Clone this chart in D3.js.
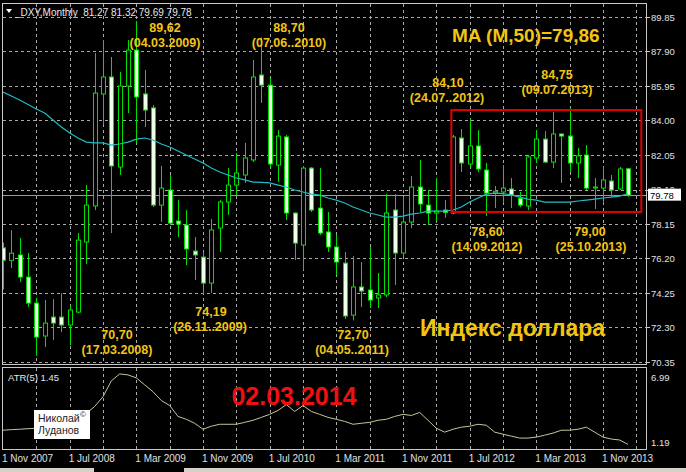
<!DOCTYPE html>
<html>
<head>
<meta charset="utf-8">
<script src="https://cdn.jsdelivr.net/npm/d3@7"></script>
<style>
  body { margin: 0; background: #000; }
  svg { display: block; }
  text { font-family: "Liberation Sans", Arial, sans-serif; }
</style>
</head>
<body>
<svg id="chart" width="686" height="472"></svg>
<script>
// monthly DXY, Nov 2007 .. Feb 2014
var timeLabels = ["1 Nov 2007", "1 Jul 2008", "1 Mar 2009", "1 Nov 2009", "1 Jul 2010",
	"1 Mar 2011", "1 Nov 2011", "1 Jul 2012", "1 Mar 2013", "1 Nov 2013"];

var opens = [76.8, 76.1, 76.4, 75.15, 73.68, 71.82, 72.89, 72.89, 72.44, 73.17,
	77.13, 79.17, 85.5, 86.46, 81.37, 85.95, 87.98, 85.5, 84.71, 79.22,
	80.07, 78.32, 78.09, 76.62, 76.28, 74.81, 77.92, 79.39, 80.35, 80.92,
	81.77, 86.57, 86.0, 81.48, 83.07, 78.77, 76.96, 81.31, 79.05, 77.7,
	76.85, 75.94, 73.0, 74.59, 74.42, 73.97, 74.14, 78.94, 76.51, 78.26,
	80.24, 79.22, 78.77, 78.94, 78.77, 83.01, 81.54, 82.56, 81.2, 79.9,
	79.96, 80.13, 79.6, 79.17, 81.88, 82.95, 81.65, 83.24, 83.12, 81.6,
	82.05, 80.18, 80.18, 80.58, 80.13, 81.27];
var highs = [77.1, 77.8, 77.36, 76.51, 73.97, 73.85, 73.9, 74.25, 73.57, 77.64,
	80.35, 87.81, 88.55, 87.59, 86.74, 88.55, 89.62, 86.85, 84.88, 81.43,
	80.92, 79.51, 78.94, 77.41, 76.57, 78.43, 79.51, 81.31, 82.16, 82.73,
	87.42, 88.70, 86.4, 83.46, 83.18, 78.8, 81.43, 81.37, 81.31, 78.83,
	77.53, 76.57, 76.34, 76.0, 76.85, 75.38, 79.84, 79.84, 79.67, 80.86,
	81.77, 80.07, 80.75, 79.5, 83.18, 83.52, 84.10, 83.46, 81.6, 80.3,
	81.48, 80.75, 79.96, 82.05, 83.46, 83.4, 84.48, 83.24, 84.75, 82.45,
	82.61, 80.75, 81.37, 80.92, 81.37, 81.32];
var lows = [74.45, 75.66, 74.87, 73.46, 70.70, 71.2, 71.6, 72.04, 71.3, 73.1,
	75.89, 78.94, 83.75, 77.64, 80.92, 84.42, 82.73, 83.63, 79.11, 78.26,
	78.1, 77.41, 75.83, 74.98, 74.19, 74.25, 76.57, 78.66, 79.79, 80.47,
	81.65, 84.99, 81.37, 80.52, 78.37, 76.11, 75.55, 78.83, 77.53, 76.57,
	75.27, 72.78, 72.70, 73.46, 73.4, 73.4, 74.02, 74.7, 76.28, 77.92,
	78.8, 78.09, 78.3, 78.5, 78.7, 81.09, 81.37, 81.09, 78.60, 79.05,
	79.34, 79.05, 79.1, 78.94, 81.6, 81.6, 81.31, 80.47, 81.09, 80.75,
	80.07, 79.0, 79.34, 79.67, 80.07, 79.69];
var closes = [76.1, 76.5, 75.15, 73.68, 71.76, 72.55, 72.55, 72.44, 73.29, 77.24,
	79.22, 85.55, 86.46, 81.43, 85.95, 87.98, 85.33, 84.59, 79.22, 80.18,
	78.2, 78.15, 76.74, 76.4, 74.81, 77.81, 79.39, 80.35, 81.03, 81.88,
	86.46, 86.0, 81.54, 83.12, 78.77, 77.07, 81.31, 78.94, 77.64, 76.85,
	76.0, 72.95, 74.59, 74.36, 73.85, 74.14, 78.77, 76.51, 78.26, 80.24,
	79.28, 78.77, 78.88, 78.8, 83.07, 81.6, 82.56, 81.26, 79.9, 80.0,
	80.18, 79.79, 79.22, 81.94, 82.95, 81.65, 83.24, 83.12, 81.6, 82.0,
	80.18, 80.24, 80.64, 80.07, 81.26, 79.78];

var ma50 = [85.61, 85.38, 85.16, 84.90, 84.65, 84.42, 84.03, 83.63, 83.29, 83.01,
	82.78, 82.73, 82.73, 82.61, 82.67, 82.78, 82.95, 83.01, 82.90, 82.67,
	82.50, 82.28, 82.05, 81.82, 81.60, 81.31, 81.09, 80.92, 80.75, 80.64,
	80.52, 80.50, 80.47, 80.35, 80.24, 80.07, 79.96, 79.84, 79.79, 79.62,
	79.50, 79.34, 79.11, 78.94, 78.77, 78.66, 78.54, 78.54, 78.60, 78.71,
	78.77, 78.88, 78.88, 78.88, 78.94, 79.11, 79.39, 79.62, 79.84, 79.90,
	79.87, 79.79, 79.67, 79.56, 79.50, 79.39, 79.39, 79.39, 79.39, 79.45,
	79.50, 79.56, 79.62, 79.67, 79.73, 79.86];

var atr5 = [2.48, 2.52, 2.55, 2.59, 2.62, 2.77, 2.91, 3.12, 3.34, 3.48,
	3.70, 4.20, 4.91, 6.06, 6.56, 6.49, 6.27, 5.77, 5.27, 4.63,
	4.27, 3.48, 3.27, 2.98, 2.55, 2.77, 2.91, 2.91, 2.91, 3.05,
	3.20, 3.41, 3.63, 3.91, 4.34, 3.84, 4.27, 3.84, 3.63, 3.41,
	3.27, 3.12, 2.91, 2.98, 3.05, 3.20, 3.27, 3.48, 3.63, 3.55,
	3.77, 3.20, 2.62, 2.34, 2.55, 2.70, 2.77, 2.91, 2.84, 2.34,
	2.19, 2.05, 1.91, 1.91, 1.98, 2.12, 2.27, 2.48, 2.48, 2.55,
	2.70, 2.34, 1.98, 1.84, 1.77, 1.45];

var priceTicks = [89.85, 87.90, 85.95, 84.00, 82.05, 80.10, 78.15, 76.20, 74.25, 72.30, 70.35];
var atrTicks = [6.99, 1.19];
var lastPrice = 79.78;
var maValue = "79,86";

var W = 686, H = 472;
var svg = d3.select("#chart");

svg.append("rect").attr("width", W).attr("height", H).attr("fill", "#000");

var x = d3.scaleLinear().domain([0, 75]).range([3, 628]);
var y = d3.scaleLinear().domain([70.35, 89.85]).range([362, 17]);
var ya = d3.scaleLinear().domain([atrTicks[1], atrTicks[0]]).range([448, 368]);
var px = i => Math.round(x(i)) + 0.5;

var gridColor = "#a8a8a8", frameColor = "#c8c8c8";

// grid
var grid = svg.append("g")
	.attr("stroke", gridColor)
	.attr("stroke-dasharray", "3,3");

grid.selectAll("line.h")
	.data(priceTicks)
	.join("line")
	.attr("class", "h")
	.attr("x1", 3).attr("x2", 650)
	.attr("y1", d => Math.round(y(d)) + 0.5)
	.attr("y2", d => Math.round(y(d)) + 0.5);

var vTicks = d3.range(4, 77, 4);
grid.selectAll("line.v")
	.data(vTicks)
	.join("line")
	.attr("class", "v")
	.attr("x1", px).attr("x2", px)
	.attr("y1", 4).attr("y2", 364);

grid.selectAll("line.va")
	.data(vTicks)
	.join("line")
	.attr("class", "va")
	.attr("x1", px).attr("x2", px)
	.attr("y1", 368).attr("y2", 449);

// bid line
svg.append("line")
	.attr("x1", 3).attr("x2", 646)
	.attr("y1", Math.round(y(lastPrice)) + 0.5)
	.attr("y2", Math.round(y(lastPrice)) + 0.5)
	.attr("stroke", "#9a9a9a");

svg.append("clipPath").attr("id", "mainClip")
	.append("rect").attr("x", 3).attr("y", 4).attr("width", 643).attr("height", 360);

var plot = svg.append("g").attr("clip-path", "url(#mainClip)");

// candles
var candles = opens.map((o, i) => ({ i: i, o: o, h: highs[i], l: lows[i], c: closes[i] }));

var cg = plot.append("g")
	.selectAll("g")
	.data(candles)
	.join("g");

cg.append("line")
	.attr("x1", d => px(d.i)).attr("x2", d => px(d.i))
	.attr("y1", d => y(d.h)).attr("y2", d => y(d.l))
	.attr("stroke", "#00e000");

cg.append("rect")
	.attr("x", d => px(d.i) - 2)
	.attr("width", 4)
	.attr("y", d => y(Math.max(d.o, d.c)))
	.attr("height", d => Math.max(1, Math.abs(y(d.o) - y(d.c))))
	.attr("fill", d => d.c >= d.o ? "#000" : "#eeffe8")
	.attr("stroke", "#00e000");

// moving average
plot.append("path")
	.datum(ma50)
	.attr("fill", "none")
	.attr("stroke", "#20bcc4")
	.attr("stroke-width", 1.2)
	.attr("d", d3.line().x((d, i) => x(i)).y(d => y(d)));

// range box
plot.append("rect")
	.attr("x", x(53.8)).attr("y", y(84.59))
	.attr("width", x(76.6) - x(53.8))
	.attr("height", y(78.83) - y(84.59))
	.attr("fill", "none")
	.attr("stroke", "#e00000")
	.attr("stroke-width", 2);

// ATR
svg.append("path")
	.datum(atr5)
	.attr("fill", "none")
	.attr("stroke", "#c8c49a")
	.attr("d", d3.line().x((d, i) => x(i)).y(d => ya(d)));

// frames
svg.append("rect").attr("x", 2.5).attr("y", 3.5).attr("width", 644).attr("height", 361)
	.attr("fill", "none").attr("stroke", frameColor);
svg.append("rect").attr("x", 2.5).attr("y", 367.5).attr("width", 644).attr("height", 82)
	.attr("fill", "none").attr("stroke", frameColor);

// price axis
var axisText = "#e0e0e0";
svg.append("g")
	.selectAll("line")
	.data(priceTicks)
	.join("line")
	.attr("x1", 646).attr("x2", 650)
	.attr("y1", d => Math.round(y(d)) + 0.5)
	.attr("y2", d => Math.round(y(d)) + 0.5)
	.attr("stroke", frameColor);

// the bid label covers the lower part of the tick under it, so clip that tick
svg.append("clipPath").attr("id", "bidClip")
	.append("rect").attr("x", 646).attr("y", 0).attr("width", 40).attr("height", y(lastPrice) - 6.5);

svg.append("g")
	.selectAll("text")
	.data(priceTicks)
	.join("text")
	.attr("x", 651)
	.attr("y", d => y(d) + 3.5)
	.attr("clip-path", d => Math.abs(y(d) - y(lastPrice)) < 12 ? "url(#bidClip)" : null)
	.attr("fill", axisText)
	.style("font-size", "9.5px")
	.text(d => d.toFixed(2));

svg.append("rect")
	.attr("x", 648).attr("y", y(lastPrice) - 6.5)
	.attr("width", 33).attr("height", 12)
	.attr("fill", "#fff");
svg.append("text")
	.attr("x", 650).attr("y", y(lastPrice) + 3.5)
	.attr("fill", "#000")
	.style("font-size", "9.5px")
	.text(lastPrice.toFixed(2));

// ATR scale
svg.append("g")
	.selectAll("text")
	.data(atrTicks)
	.join("text")
	.attr("x", 651)
	.attr("y", (d, i) => i ? 446 : 381)
	.attr("fill", axisText)
	.style("font-size", "9.5px")
	.text(d => d.toFixed(2));

// time axis
svg.append("g")
	.selectAll("text")
	.data(timeLabels)
	.join("text")
	.attr("x", (d, i) => x(i * 8) - 1)
	.attr("y", 462)
	.attr("fill", axisText)
	.style("font-size", "10px")
	.text(d => d);

svg.append("rect").attr("x", 0).attr("y", 468).attr("width", 94).attr("height", 4).attr("fill", "#d4d0c8");
svg.append("rect").attr("x", 184).attr("y", 468).attr("width", 502).attr("height", 4).attr("fill", "#d4d0c8");

// header
svg.append("path").attr("d", "M6,9 L12,9 L9,13 Z").attr("fill", "#fff");
svg.append("text")
	.attr("x", 15).attr("y", 16)
	.attr("fill", "#e8e8e8")
	.style("font-size", "10px")
	.attr("xml:space", "preserve")
	.text("_DXY,Monthly  " + [opens[75], highs[75], lows[75], closes[75]].map(v => v.toFixed(2)).join(" "));

svg.append("text")
	.attr("x", 8).attr("y", 381)
	.attr("fill", "#e8e8e8")
	.style("font-size", "9.5px")
	.text("ATR(5) " + atr5[atr5.length - 1].toFixed(2));

// annotations: value line above, date line below
var gold = "#f2c414";
var notes = [
	[165, 27, "89,62"], [165, 42, "(04.03.2009)"],
	[289, 27, "88,70"], [289, 42, "(07.06..2010)"],
	[117, 334, "70,70"], [117, 349, "(17.03.2008)"],
	[211, 311, "74,19"], [210, 326, "(26.11..2009)"],
	[353, 334, "72,70"], [352, 349, "(04.05..2011)"],
	[448, 82, "84,10"], [447, 97, "(24.07..2012)"],
	[557, 74, "84,75"], [557, 89, "(09.07.2013)"],
	[487, 231, "78,60"], [487, 246, "(14.09.2012)"],
	[590, 231, "79,00"], [591, 246, "(25.10.2013)"]
];
svg.append("g")
	.selectAll("text")
	.data(notes)
	.join("text")
	.attr("x", d => d[0])
	.attr("y", d => d[1] + 4.5)
	.attr("text-anchor", "middle")
	.attr("fill", gold)
	.style("font-size", "12.5px")
	.style("font-weight", "bold")
	.text(d => d[2]);

svg.append("text")
	.attr("x", 452).attr("y", 42)
	.attr("fill", gold)
	.style("font-size", "19px")
	.style("font-weight", "bold")
	.text("MA (M,50)=" + maValue);

svg.append("text")
	.attr("x", 420).attr("y", 336)
	.attr("fill", gold)
	.style("font-size", "23px")
	.style("font-weight", "bold")
	.text("Индекс доллара");

svg.append("text")
	.attr("x", 294).attr("y", 405)
	.attr("text-anchor", "middle")
	.attr("fill", "#f01010")
	.style("font-size", "25px")
	.style("font-weight", "bold")
	.text("02.03.2014");

// author box
svg.append("rect").attr("x", 34).attr("y", 410).attr("width", 56).attr("height", 29).attr("fill", "#fff");
svg.append("text").attr("x", 38).attr("y", 422).attr("fill", "#222").style("font-size", "10.5px").text("Николай");
svg.append("text").attr("x", 80).attr("y", 417).attr("fill", "#222").style("font-size", "8px").text("©");
svg.append("text").attr("x", 38).attr("y", 434).attr("fill", "#222").style("font-size", "10.5px").text("Луданов");
</script>
</body>
</html>
